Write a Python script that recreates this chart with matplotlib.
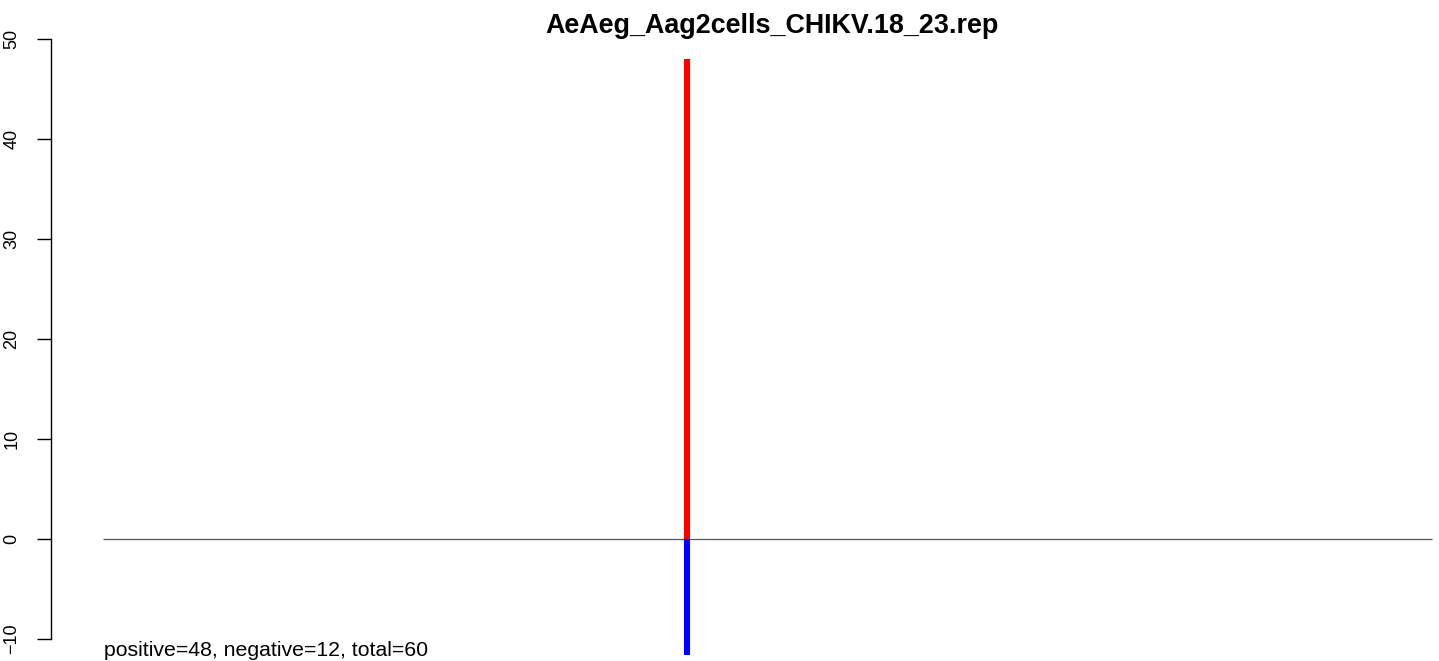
import matplotlib
matplotlib.use("Agg")
import matplotlib.pyplot as plt

# data
TITLE = "AeAeg_Aag2cells_CHIKV.18_23.rep"
GENOME_START = 1
GENOME_END = 11826
POSITIONS = [5197]
POSITIVE = [48]
NEGATIVE = [12]
Y_TICKS = [-10, 0, 10, 20, 30, 40, 50]

plt.rcParams["font.family"] = ["Liberation Sans", "DejaVu Sans"]

W, H = 1439, 661
fig = plt.figure(figsize=(W / 100, H / 100), dpi=100)

# axes placed in pixel coords
left_px, right_px, top_px, bottom_px = 51, 1439, 35, 655
ax = fig.add_axes([left_px / W, 1 - bottom_px / H,
                   (right_px - left_px) / W, (bottom_px - top_px) / H])

span = GENOME_END - GENOME_START
px_per_unit = (1432 - 103) / span
ax.set_xlim(GENOME_START - (103 - left_px) / px_per_unit,
            GENOME_START + (right_px - 103) / px_per_unit)
ax.set_ylim(-11.6, 50.4)

ax.hlines(0, GENOME_START, GENOME_END, color="#555555", linewidth=0.9)
ax.vlines(POSITIONS, 0, POSITIVE, color="red", linewidth=4.4, capstyle="butt")
ax.vlines(POSITIONS, [-n for n in NEGATIVE], 0, color="blue", linewidth=4.4,
          capstyle="butt")

for s in ["top", "right", "bottom"]:
    ax.spines[s].set_visible(False)
ax.spines["left"].set_bounds(Y_TICKS[0], Y_TICKS[-1])
ax.spines["left"].set_linewidth(1.0)
ax.set_xticks([])
ax.set_yticks(Y_TICKS)
ax.set_yticklabels([str(t).replace("-", "\u2212") for t in Y_TICKS],
                   rotation=90, va="center", fontsize=13)
ax.tick_params(axis="y", length=10, width=1.0, pad=12)

fig.text(772 / W, 1 - 33 / H, TITLE, ha="center", va="baseline",
         fontsize=19.4, fontweight="bold")
fig.text(104 / W, 1 - 651 / H,
         "positive=%d, negative=%d, total=%d" % (sum(POSITIVE), sum(NEGATIVE),
                                                 sum(POSITIVE) + sum(NEGATIVE)),
         ha="left", va="center", fontsize=15.3)

fig.savefig("out.png", dpi=100)
